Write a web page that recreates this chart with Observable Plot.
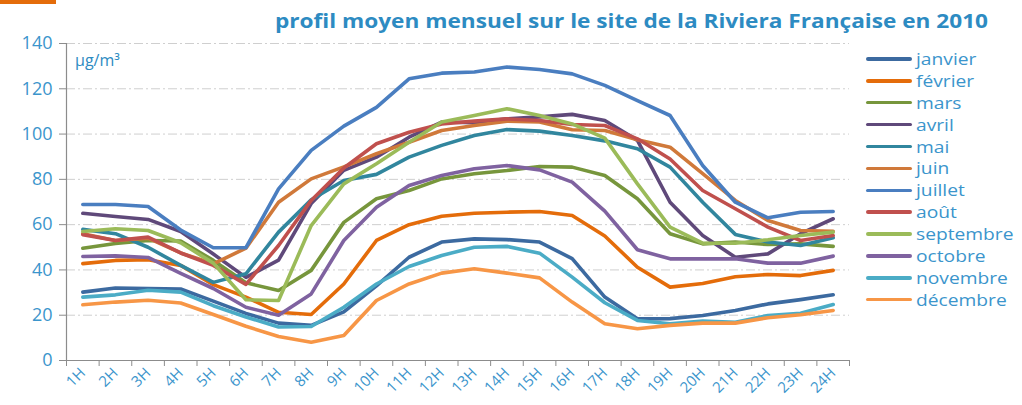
<!DOCTYPE html>
<html>
<head>
<meta charset="utf-8">
<script src="https://cdn.jsdelivr.net/npm/d3@7"></script>
<script src="https://cdn.jsdelivr.net/npm/@observablehq/plot@0.6"></script>
<style>
  html, body { margin: 0; padding: 0; background: #fff; }
  #wrap { position: relative; width: 1022px; height: 405px; overflow: hidden; font-family: "Open Sans", sans-serif; }
  #wrap svg { position: absolute; left: 0; top: 0; }
  #bar { position: absolute; left: 0; top: 0; width: 56px; height: 4px; background: #E46C0A; }
  #title { position: absolute; left: 275px; top: 7px; font-size: 19.5px; font-weight: bold; color: #2D8BC2; white-space: nowrap; transform: scaleX(1.16); transform-origin: left center; }
  #unit { position: absolute; left: 75px; top: 49px; font-size: 16px; color: #2D8BC2; }
  #legend { position: absolute; left: 866px; top: 48px; }
  .item { height: 21.9px; display: flex; align-items: center; }
  .sw { width: 46px; height: 3.5px; border-radius: 2px; margin-right: 4px; }
  .lab { font-size: 17px; color: #3B95CC; line-height: 20px; transform: scaleX(1.13); transform-origin: left center; white-space: nowrap; }
</style>
</head>
<body>
<div id="wrap">
  <div id="bar"></div>
  <div id="title">profil moyen mensuel sur le site de la Riviera Française en 2010</div>
  <div id="unit">µg/m³</div>
  <div id="legend"></div>
</div>
<script>
const hourLabels = ["1H","2H","3H","4H","5H","6H","7H","8H","9H","10H","11H","12H","13H","14H","15H","16H","17H","18H","19H","20H","21H","22H","23H","24H"];
const yTicks = [0, 20, 40, 60, 80, 100, 120, 140];
const months = ["janvier","février","mars","avril","mai","juin","juillet","août","septembre","octobre","novembre","décembre"];
const colors = ["#3C6AA0","#E46C0A","#77963C","#5F497A","#31869E","#D0793A","#4A7EC0","#C0504D","#9BBB59","#7F62A0","#4BACC6","#F79646"];

const janvier   = [30.2,32,31.8,31.6,26.2,20.8,16.5,15.5,21.5,33,45.6,52.3,53.7,53.4,52.3,45,28,18.4,18.5,19.9,22.1,25,26.9,29];
const fevrier   = [42.8,44.2,44.5,42,33.5,28,21.3,20.3,33.8,53,60,63.7,65,65.5,65.8,64,55,41.2,32.4,34,37,38,37.5,39.8];
const mars      = [49.6,51.7,53,52.8,44.2,34.3,30.9,39.8,61,71.4,75.1,80.2,82.5,83.9,85.7,85.4,81.7,71.4,56,51.5,52.3,51.2,51.5,50.4];
const avril     = [65,63.6,62.3,57,47,36.7,44.3,69.3,84,89.8,98.6,105.3,105,106.7,107.6,108.7,106,97.2,69.9,55.2,45.6,47.1,56,62.6];
const mai       = [57.9,56,50,42,34.5,38.3,56.7,71,79.5,82.2,89.8,95,99.4,102,101.3,99.4,97,93.5,85.4,69.9,55.7,52.3,50.8,54.2];
const juin      = [56,53,54,47.5,42.7,49.6,69.9,80.2,85.5,91.3,96.4,101.6,103.8,105.7,105.3,101.9,101.6,97.5,94.2,82.5,70.7,61.8,57.4,57.1];
const juillet   = [68.9,68.9,68,57.6,49.8,49.8,75.8,92.8,103.5,111.8,124.4,126.9,127.4,129.6,128.5,126.6,121.5,114.8,108.2,86.1,69.9,63,65.5,65.8];
const aout      = [55.6,53,54.5,47.5,42,33.6,50.8,70.7,85,95.7,100.8,104.5,105.7,106.7,106,104.2,103.8,97.9,89,75.1,67,58.9,53,55.2];
const septembre = [57,58.2,57.4,52,43,26.8,26.5,59.6,78,86.9,96.4,105.3,108.2,111.2,108.2,104.5,98.2,78,58.9,51.8,51.8,53.3,55.2,56.7];
const octobre   = [45.9,46.2,45.5,38.5,31.8,23.5,20,29.4,53,67.7,77.3,81.7,84.7,86.1,84.2,78.8,66,48.9,44.9,44.9,44.9,43,43,46.1];
const novembre  = [28,29,31,30.2,24.2,19.2,14.8,15,23.5,33.8,41.5,46.4,50,50.4,47.4,36.8,25.5,17.7,16.2,17.4,16.9,19.9,20.9,24.7];
const decembre  = [24.6,25.8,26.6,25.4,20.3,15.1,10.6,8.1,11,26.5,33.8,38.6,40.5,38.6,36.5,25.8,16.2,14,15.5,16.5,16.5,18.9,20.2,22.1];

const series = [janvier,fevrier,mars,avril,mai,juin,juillet,aout,septembre,octobre,novembre,decembre];

const data = [];
series.forEach((vals, m) => vals.forEach((v, i) => data.push({month: months[m], hour: i + 1, value: v})));
const hourIdx = hourLabels.map((d, i) => i + 1);
const bounds = [0.5, ...hourIdx.map(h => h + 0.5)];
const axisColor = "#8C8C8C";
const textColor = "#3B95CC";

const chart = Plot.plot({
  width: 1022,
  height: 405,
  marginLeft: 66,
  marginRight: 173,
  marginTop: 43,
  marginBottom: 45,
  style: {fontFamily: "Open Sans, sans-serif", background: "transparent"},
  x: {type: "linear", domain: [0.5, 24.5]},
  y: {domain: [0, 140]},
  color: {domain: months, range: colors},
  marks: [
    Plot.ruleY(yTicks.filter(t => t > 0), {stroke: "#CFCFCF", strokeWidth: 1, strokeDasharray: "9,3,2,3"}),
    Plot.axisY({ticks: yTicks, tickSize: 7, stroke: axisColor, fill: textColor, fontSize: 18, tickPadding: 7, label: null}),
    Plot.axisX({ticks: bounds, tickSize: 6, stroke: axisColor, tickFormat: () => "", label: null}),
    Plot.axisX({ticks: hourIdx, tickSize: 0, tickFormat: h => hourLabels[h - 1], tickRotate: -45, fill: textColor, fontSize: 15, tickPadding: 10, label: null}),
    Plot.ruleX([0.5], {stroke: axisColor, strokeWidth: 1.2}),
    Plot.ruleY([0], {stroke: axisColor, strokeWidth: 1.2}),
    Plot.line(data, {x: "hour", y: "value", z: "month", stroke: "month", strokeWidth: 3.6, strokeLinejoin: "round"})
  ]
});
document.getElementById("wrap").prepend(chart);

const legend = document.getElementById("legend");
months.forEach((m, i) => {
  const it = document.createElement("div");
  it.className = "item";
  it.innerHTML = `<div class="sw" style="background:${colors[i]}"></div><div class="lab">${m}</div>`;
  legend.appendChild(it);
});
</script>
</body>
</html>
